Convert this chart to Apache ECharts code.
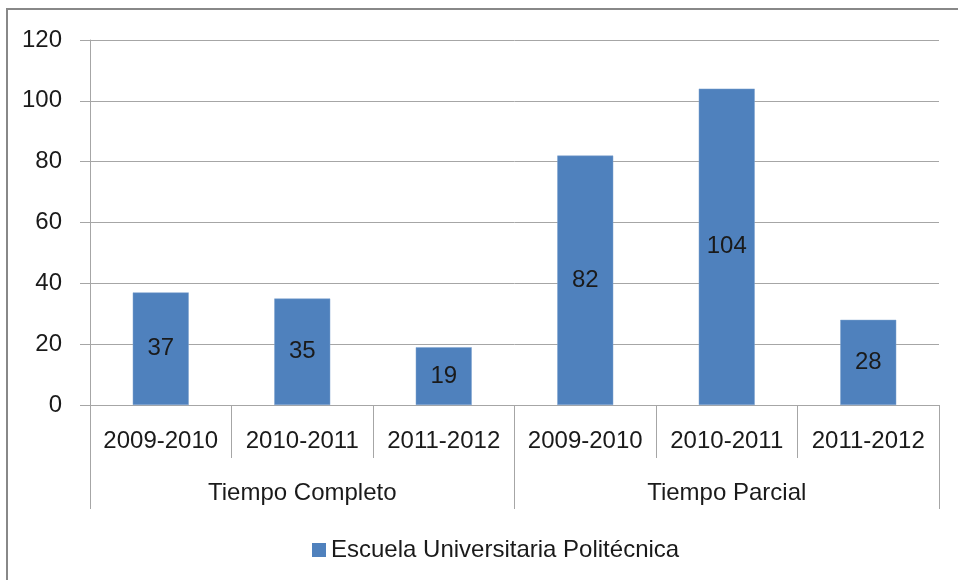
<!DOCTYPE html>
<html><head><meta charset="utf-8">
<script src="https://cdn.jsdelivr.net/npm/echarts@6/dist/echarts.min.js"></script>
<style>html,body{margin:0;padding:0;background:#fff}#c{width:958px;height:580px}</style>
</head><body><div id="c"></div>
<script>
var years = ['2009-2010','2010-2011','2011-2012','2009-2010','2010-2011','2011-2012'];
var groups = ['Tiempo Completo','Tiempo Parcial'];
var seriesName = 'Escuela Universitaria Politécnica';
var values = [37, 35, 19, 82, 104, 28];
var yTicks = {min: 0, max: 120, interval: 20};

var FONT = 'Liberation Sans';
var FS = 24;
var chart = echarts.init(document.getElementById('c'), null, {renderer:'canvas'});
chart.setOption({
  animation: false,
  backgroundColor: '#fff',
  textStyle: {fontFamily: FONT},
  graphic: [{
    type: 'rect', shape: {x: 7, y: 9, width: 980, height: 600},
    style: {fill: 'none', stroke: '#888', lineWidth: 2}, silent: true, z: -1
  }],
  grid: {left: 90, right: 19, top: 40, bottom: 175, containLabel: false},
  legend: {
    data: [seriesName], left: 307, top: 533, itemWidth: 14, itemHeight: 14, itemGap: 5,
    icon: 'rect', itemStyle: {borderWidth: 0},
    textStyle: {fontFamily: FONT, fontSize: FS, color: '#1a1a1a', padding: [0,0,0,0]}
  },
  xAxis: [{
    type: 'category', data: years, position: 'bottom',
    axisLine: {lineStyle: {color: '#a6a6a6', width: 1}},
    axisTick: {show: true, interval: 0, length: 53, lineStyle: {color: '#a6a6a6'}},
    axisLabel: {interval: 0, margin: 24, fontFamily: FONT, fontSize: FS, color: '#1a1a1a'}
  }, {
    type: 'category', data: groups, position: 'bottom',
    axisLine: {show: false},
    axisTick: {show: true, interval: 0, length: 104, lineStyle: {color: '#a6a6a6'}},
    axisLabel: {interval: 0, margin: 76, fontFamily: FONT, fontSize: FS, color: '#1a1a1a'}
  }],
  yAxis: {
    type: 'value', min: yTicks.min, max: yTicks.max, interval: yTicks.interval,
    axisLine: {show: true, lineStyle: {color: '#a6a6a6'}},
    axisTick: {show: true, length: 10, lineStyle: {color: '#a6a6a6'}},
    axisLabel: {margin: 28, fontFamily: FONT, fontSize: FS, color: '#1a1a1a'},
    splitLine: {lineStyle: {color: '#a6a6a6', width: 1}}
  },
  series: [{
    name: seriesName, type: 'bar', xAxisIndex: 0, data: values,
    barWidth: 56,
    itemStyle: {color: '#4f81bd', borderColor: '#7fa3cf', borderWidth: 0.5},
    label: {show: true, position: 'inside', fontFamily: FONT, fontSize: FS, color: '#1a1a1a'}
  }]
});
</script></body></html>
